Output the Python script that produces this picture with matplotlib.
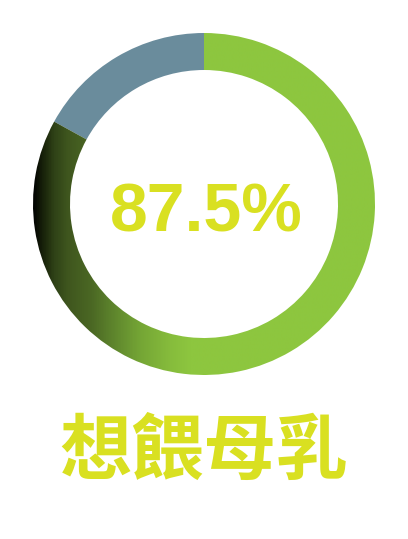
import numpy as np
import matplotlib
matplotlib.use("Agg")
import matplotlib.pyplot as plt
from matplotlib.patches import Wedge
from matplotlib.colors import LinearSegmentedColormap

# data (ring as drawn, label as printed)
segments = ["green", "gray"]
shares = [83.0, 17.0]
center_label = "87.5%"
caption = "想餵母乳"

green = "#8dc63f"
gray = "#6a8c9c"
text_col = "#d9e021"

W, H = 408, 539
fig = plt.figure(figsize=(W / 100, H / 100), dpi=100)
ax = fig.add_axes([0, 0, 1, 1])
ax.set_xlim(0, W)
ax.set_ylim(0, H)
ax.set_aspect("equal")
ax.axis("off")

cx, cy = 204, H - 204
r_out, ring_w = 171, 37

total = sum(shares)
gray_deg = 360 * shares[1] / total
# gray runs counter-clockwise from 12 o'clock, green fills the rest
gray_wedge = Wedge((cx, cy), r_out, 90, 90 + gray_deg, width=ring_w,
                   facecolor=gray, edgecolor="none")
green_wedge = Wedge((cx, cy), r_out, 90 + gray_deg, 450, width=ring_w,
                    facecolor="none", edgecolor="none")
ax.add_patch(gray_wedge)
ax.add_patch(green_wedge)

# horizontal dark-to-green shading on the green part
grad = LinearSegmentedColormap.from_list("ring", [
    (0.00, "#030502"),
    (0.03, "#1a250b"),
    (0.06, "#2f4217"),
    (0.10, "#3f561e"),
    (0.17, "#4b6824"),
    (0.22, "#5a7f2b"),
    (0.31, "#74a535"),
    (0.40, "#86bc3c"),
    (0.46, green),
    (1.00, green),
])
img = ax.imshow(np.linspace(0, 1, 400).reshape(1, -1), cmap=grad, aspect="auto",
                extent=[cx - r_out, cx + r_out, cy - r_out, cy + r_out],
                interpolation="bilinear", zorder=2)
img.set_clip_path(green_wedge)

ax.text(cx + 2, H - 214, center_label, ha="center", va="center", color=text_col,
        fontsize=49, fontweight="bold", family=["Liberation Sans", "DejaVu Sans"],
        zorder=3)

ax.text(cx, H - 453, caption, ha="center", va="center", color=text_col,
        fontsize=52, fontweight="bold",
        family=["Noto Sans CJK TC", "DejaVu Sans"])

fig.savefig("out.png", dpi=100)
